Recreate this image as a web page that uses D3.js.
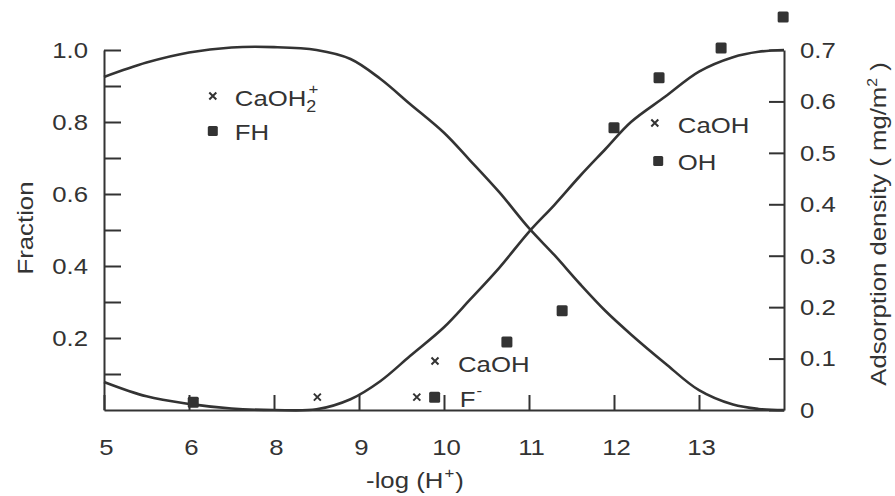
<html>
<head>
<script src="https://d3js.org/d3.v7.min.js"></script>
<style>
  body { margin: 0; background: #fff; }
  text { font-family: "Liberation Sans", Arial, sans-serif; fill: #333; }
</style>
</head>
<body>
<svg width="895" height="496" id="MAINSVG"></svg>
<script>

var SVG = d3.select("#MAINSVG");

// ---- data ----
// x positions along the -log(H+) axis (as the axis is printed, 6 = left edge)
var curveX      = [6.0, 6.5, 7.0, 7.5, 8.0, 8.5, 8.9, 9.25, 9.6, 10.0, 10.3, 10.65, 11.0, 11.3, 11.6, 11.9, 12.2, 12.6, 13.0, 13.4, 13.7, 14.0];
var caoh2Frac   = [0.925, 0.965, 0.993, 1.007, 1.008, 1.0, 0.975, 0.92, 0.85, 0.77, 0.695, 0.605, 0.505, 0.43, 0.35, 0.275, 0.21, 0.13, 0.055, 0.015, 0.003, 0.0];
var caohFrac    = [0.078, 0.038, 0.017, 0.004, 0.0, 0.002, 0.03, 0.08, 0.15, 0.23, 0.305, 0.395, 0.495, 0.57, 0.65, 0.725, 0.80, 0.87, 0.94, 0.98, 0.995, 1.0];

// adsorption density (mg/m2), squares
var adsX = [7.05, 9.89, 10.74, 11.39, 12.0, 12.53, 13.26, 13.99];
var adsY = [0.015, 0.025, 0.132, 0.193, 0.549, 0.646, 0.704, 0.764];
// crosses
var crossX = [8.51, 9.68];
var crossY = [0.025, 0.025];

// axis ticks
var xTickValues = [6, 7, 8, 9, 10, 11, 12, 13];
var xTickLabels = ["5", "6", "8", "9", "10", "11", "12", "13"];
var leftTicks   = [0.1, 0.2, 0.3, 0.4, 0.5, 0.6, 0.7, 0.8, 0.9, 1.0];
var rightTicks  = [0, 0.1, 0.2, 0.3, 0.4, 0.5, 0.6, 0.7];

var INK = "#333";
var STRETCH = 1.12;   // the scanned font is wider than Arial
var FS = 23;

var x  = d3.scaleLinear().domain([6, 14]).range([104, 784]);
var yL = d3.scaleLinear().domain([0, 1]).range([410, 50]);
var yR = d3.scaleLinear().domain([0, 0.7]).range([410, 50]);

// ---- axes ----
var gLeft = SVG.append("g").attr("transform", "translate(" + x(6) + ",0)")
  .call(d3.axisLeft(yL).tickValues(leftTicks).tickSizeInner(-17).tickSizeOuter(0).tickPadding(16)
    .tickFormat(function(d) { return Math.round(d * 10) % 2 == 0 ? d3.format(".1f")(d) : ""; }));
gLeft.selectAll("text").attr("x", -16 / STRETCH).attr("transform", "scale(" + STRETCH + ",1)");

var gRight = SVG.append("g").attr("transform", "translate(" + x(14) + ",0)")
  .call(d3.axisRight(yR).tickValues(rightTicks).tickSizeInner(-15).tickSizeOuter(0).tickPadding(16)
    .tickFormat(function(d) { return d == 0 ? "0" : d3.format(".1f")(d); }));
gRight.selectAll("text").attr("x", 16 / STRETCH).attr("transform", "scale(" + STRETCH + ",1)");

var gBottom = SVG.append("g").attr("transform", "translate(0," + yL(0) + ")")
  .call(d3.axisBottom(x).tickValues(xTickValues).tickSizeInner(-15).tickSizeOuter(0)
    .tickFormat(function(d, i) { return xTickLabels[i]; }));
gBottom.selectAll("text").attr("y", 45).attr("dy", 0).attr("x", 2 / STRETCH)
  .attr("transform", "scale(" + STRETCH + ",1)");

SVG.selectAll(".domain, .tick line").attr("stroke", INK).attr("stroke-width", 2);
SVG.selectAll(".tick text").style("font-size", FS + "px").attr("fill", INK);

// ---- curves ----
var line = d3.line().curve(d3.curveCatmullRom.alpha(0.5));
[caoh2Frac, caohFrac].forEach(function(vals) {
  SVG.append("path")
    .attr("d", line(curveX.map(function(d, i) { return [x(d), yL(vals[i])]; })))
    .attr("fill", "none")
    .attr("stroke", INK)
    .attr("stroke-width", 2.6);
});

// ---- markers ----
function square(cx, cy, s) {
  SVG.append("rect")
    .attr("x", cx - s / 2).attr("y", cy - s / 2)
    .attr("width", s).attr("height", s)
    .attr("rx", 1.5)
    .attr("fill", INK);
}
function cross(cx, cy) {
  SVG.append("path")
    .attr("d", "M" + (cx - 3.5) + "," + (cy - 3.5) + "L" + (cx + 3.5) + "," + (cy + 3.5) +
               "M" + (cx - 3.5) + "," + (cy + 3.5) + "L" + (cx + 3.5) + "," + (cy - 3.5))
    .attr("stroke", INK).attr("stroke-width", 2);
}

adsX.forEach(function(d, i) { square(x(d), yR(adsY[i]), 11); });
crossX.forEach(function(d, i) { cross(x(d), yR(crossY[i])); });

// ---- labels ----
// parts: [text, dx, dy, size]
function label(tx, ty, parts, anchor, rot) {
  var t = SVG.append("text")
    .attr("transform", "translate(" + tx + "," + ty + ") rotate(" + (rot || 0) + ") scale(" + STRETCH + ",1)")
    .attr("text-anchor", anchor || "start")
    .style("font-size", FS + "px");
  parts.forEach(function(p) {
    t.append("tspan").attr("dx", p[1] || 0).attr("dy", p[2] || 0)
      .style("font-size", (p[3] || FS) + "px").text(p[0]);
  });
  return t;
}

// legend top-left
cross(x(7.28), yL(0.872));
label(x(7.28) + 22, yL(0.872) + 10, [["CaOH"], ["2", 0, 6, 16], ["+", -7, -18, 15]]);
square(x(7.28), yL(0.775), 10);
label(x(7.28) + 22, yL(0.775) + 9, [["FH"]]);

// legend right
cross(x(12.48), yL(0.797));
label(x(12.48) + 23, yL(0.797) + 10, [["CaOH"]]);
square(x(12.52), yL(0.692), 10);
label(x(12.48) + 23, yL(0.692) + 9, [["OH"]]);

// labels near the bottom
cross(x(9.894), yL(0.136));
label(x(9.894) + 23, yL(0.136) + 11, [["CaOH"]]);
label(x(adsX[1]) + 25, yR(adsY[1]) + 10, [["F"], ["-", 1, -11, 15]]);

// axis titles
label(33, 228, [["Fraction"]], "middle", -90);
label(886, 224, [["Adsorption density  ( mg/m"], ["2", 0, -9, 14], [" )", 0, 9]], "middle", -90);
label(415, 488, [["-log (H"], ["+", 1, -10, 15], [")", 1, 10]], "middle");

</script>
</body>
</html>
